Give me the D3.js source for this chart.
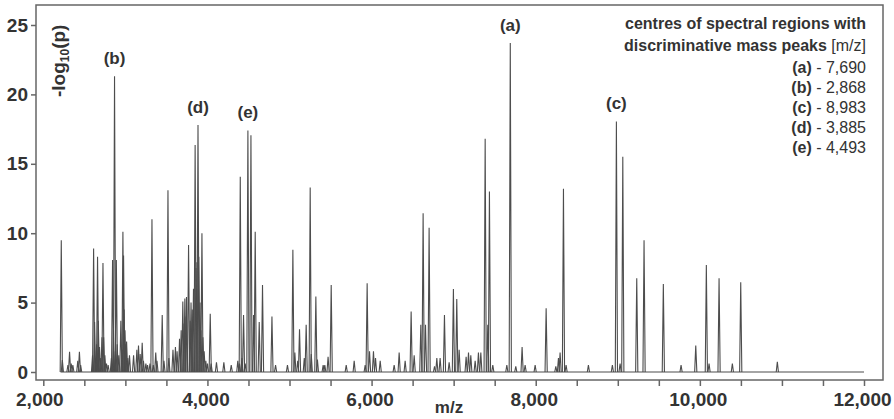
<!DOCTYPE html>
<html>
<head>
<meta charset="utf-8">
<script src="https://cdn.jsdelivr.net/npm/d3@7"></script>
<style>
  html, body { margin: 0; padding: 0; background: #fff; }
  svg { display: block; font-family: "Liberation Sans", Arial, sans-serif; }
</style>
</head>
<body>
<svg id="chart" width="894" height="419"></svg>
<script>
// ---- data ----
const peakMz = [
  2219, 2232, 2300, 2320, 2340, 2360, 2420, 2440, 2455,
  2600, 2613, 2625, 2640, 2650, 2661, 2670, 2685, 2700, 2715, 2727, 2735, 2750, 2770, 2790,
  2830, 2844, 2855, 2868, 2878, 2890, 2900, 2920, 2945, 2960, 2970, 2978, 2985, 2995, 3005, 3015, 3030, 3050,
  3100, 3140, 3160, 3180, 3205, 3220, 3250, 3270, 3300, 3324, 3340, 3370, 3385, 3449, 3470, 3519, 3530,
  3580, 3610, 3630, 3660, 3680, 3700, 3715, 3725, 3740, 3745, 3770, 3790, 3800, 3815, 3830, 3850, 3860,
  3872, 3885, 3895, 3910, 3920, 3933, 3945, 3960, 3980, 4000, 4034, 4045,
  4110, 4200, 4290, 4370, 4390, 4400, 4420, 4440, 4460, 4493, 4530, 4562, 4582, 4631, 4671, 4786, 4830,
  4975, 5041, 5065, 5100, 5122, 5180, 5203, 5252, 5265, 5321, 5340, 5410, 5430, 5470, 5508,
  5691, 5788, 5922, 5946, 5975, 6023, 6048, 6105, 6275, 6336, 6409, 6482, 6519, 6600, 6628, 6657, 6701,
  6767, 6795, 6835, 6888, 6945, 6997, 7038, 7067, 7152, 7181, 7209, 7262, 7302, 7331, 7384, 7416, 7436,
  7477, 7648, 7690, 7757, 7834, 7871, 7993, 8127, 8245, 8277, 8297, 8338, 8370, 8642, 8934, 8983, 9028,
  9061, 9231, 9320, 9555, 9771, 9950, 10079, 10112, 10234, 10396, 10498, 10944
];
const peakVal = [
  9.5, 0.86, 0.5, 1.46, 0.6, 0.5, 0.8, 1.46, 0.5,
  1.2, 8.9, 3.6, 1.0, 2.0, 8.3, 3.7, 1.8, 1.0, 2.5, 7.85, 2.5, 1.2, 0.6, 0.5,
  1.0, 8.06, 3.0, 21.3, 1.5, 8.06, 2.0, 1.2, 3.7, 1.6, 10.1, 8.4, 4.5, 3.0, 2.0, 2.2, 1.0, 1.2,
  1.2, 1.6, 1.9, 1.3, 2.1, 0.8, 0.6, 0.5, 0.6, 11.0, 0.5, 1.4, 0.8, 4.1, 0.8, 13.1, 1.0,
  1.6, 1.8, 1.5, 2.4, 3.0, 5.07, 3.5, 5.3, 4.0, 5.4, 9.15, 3.7, 5.0, 4.5, 6.0, 16.35, 7.5,
  7.9, 17.8, 8.3, 5.0, 3.0, 10.0, 2.5, 1.5, 0.8, 0.6, 4.2, 0.6,
  0.7, 0.7, 0.5, 0.8, 0.6, 14.07, 1.0, 4.1, 0.6, 17.4, 17.05, 4.1, 10.1, 3.6, 6.27, 4.0, 0.5,
  0.5, 8.8, 1.4, 0.8, 3.07, 1.0, 3.4, 13.3, 1.3, 5.43, 0.9, 0.5, 0.5, 1.1, 6.27,
  0.5, 0.8, 0.5, 6.4, 1.5, 1.5, 1.0, 0.8, 0.5, 1.4, 0.8, 4.35, 1.2, 3.4, 11.43, 3.4, 10.4,
  0.4, 1.0, 1.0, 4.1, 0.7, 5.98, 5.26, 1.6, 1.1, 1.4, 1.2, 0.8, 1.4, 1.4, 16.8, 3.4, 13.0,
  0.5, 0.5, 23.7, 0.4, 1.8, 0.5, 0.5, 4.6, 0.4, 1.0, 1.4, 13.2, 0.5, 0.5, 0.5, 18.05, 0.6,
  15.5, 6.75, 9.5, 6.34, 0.5, 1.9, 7.7, 0.6, 6.75, 0.6, 6.46, 0.74
];
const baselineRange = [2210, 12000];

const regionLabels = ["(a)", "(b)", "(c)", "(d)", "(e)"];
const regionMz = [7690, 2868, 8983, 3885, 4493];
const regionVal = [23.7, 21.3, 18.05, 17.8, 17.4];
const legendValues = ["7,690", "2,868", "8,983", "3,885", "4,493"];

const xTicks = [2000, 4000, 6000, 8000, 10000, 12000];
const xMinorTicks = d3.range(2000, 12001, 500);
const yTicks = [0, 5, 10, 15, 20, 25];

// ---- layout ----
const svg = d3.select("#chart");
const frame = { left: 36, top: 5, right: 883, bottom: 380 };
const x = d3.scaleLinear().domain([2000, 12000]).range([43.3, 864]);
const y = d3.scaleLinear().domain([0, 25]).range([372, 25]);
const ink = "#333";
const lineCol = "#4d4d4d";

// frame
svg.append("rect")
  .attr("x", frame.left).attr("y", frame.top)
  .attr("width", frame.right - frame.left).attr("height", frame.bottom - frame.top)
  .attr("fill", "none").attr("stroke", "#666").attr("stroke-width", 1.5);

// x axis
const xAxis = d3.axisBottom(x).tickValues(xTicks).tickSize(6).tickPadding(7)
  .tickFormat(d3.format(","));
const gx = svg.append("g").attr("transform", `translate(0,${frame.bottom})`).call(xAxis);
gx.select(".domain").remove();
gx.selectAll("line").attr("stroke", "#666").attr("stroke-width", 1.5);
gx.selectAll("text").attr("fill", ink).attr("font-size", 19).attr("font-weight", "bold")
  .attr("dx", d => d === 2000 ? -4 : -2);
const xMinor = d3.axisBottom(x).tickValues(xMinorTicks.filter(v => !xTicks.includes(v)))
  .tickSize(6).tickFormat("");
const gxm = svg.append("g").attr("transform", `translate(0,${frame.bottom})`).call(xMinor);
gxm.select(".domain").remove();
gxm.selectAll("line").attr("stroke", "#666").attr("stroke-width", 1.5);

// y axis
const yAxis = d3.axisLeft(y).tickValues(yTicks).tickSize(5).tickPadding(3);
const gy = svg.append("g").attr("transform", `translate(${frame.left},0)`).call(yAxis);
gy.select(".domain").remove();
gy.selectAll("line").attr("stroke", "#666").attr("stroke-width", 1.5);
gy.selectAll("text").attr("fill", ink).attr("font-size", 19).attr("font-weight", "bold");

// axis titles
svg.append("text").attr("x", 449).attr("y", 413).attr("text-anchor", "middle")
  .attr("fill", ink).attr("font-size", 17).attr("font-weight", "bold").text("m/z");

const yt = svg.append("text")
  .attr("transform", "translate(65,97) rotate(-90)")
  .attr("fill", ink).attr("font-size", 19).attr("font-weight", "bold");
yt.append("tspan").text("-log");
yt.append("tspan").attr("font-size", 12).attr("dy", 4).text("10");
yt.append("tspan").attr("dy", -4).text("(p)");

// baseline
svg.append("line")
  .attr("x1", x(baselineRange[0])).attr("x2", x(baselineRange[1]))
  .attr("y1", y(0)).attr("y2", y(0))
  .attr("stroke", lineCol).attr("stroke-width", 1.2);

// peaks
const peaks = peakMz.map((m, i) => ({ m, v: peakVal[i] }));
const hw = 1.1;
svg.append("g").selectAll("path").data(peaks).join("path")
  .attr("d", d => `M${x(d.m) - hw},${y(0)}L${x(d.m)},${y(d.v)}L${x(d.m) + hw},${y(0)}`)
  .attr("fill", "none").attr("stroke", lineCol).attr("stroke-width", 1.1)
  .attr("stroke-linejoin", "miter");

// region labels above peaks
svg.append("g").selectAll("text").data(regionLabels).join("text")
  .attr("x", (d, i) => x(regionMz[i]))
  .attr("y", (d, i) => y(regionVal[i]) - 12)
  .attr("text-anchor", "middle").attr("fill", ink)
  .attr("font-size", 17).attr("font-weight", "bold").text(d => d);

// legend
const lx = 866;
const leg = svg.append("g").attr("fill", ink).attr("font-size", 16).attr("text-anchor", "end");
leg.append("text").attr("x", lx).attr("y", 29).attr("font-weight", "bold")
  .text("centres of spectral regions with");
const l2 = leg.append("text").attr("x", lx).attr("y", 51);
l2.append("tspan").attr("font-weight", "bold").text("discriminative mass peaks ");
l2.append("tspan").text("[m/z]");
regionLabels.forEach((lab, i) => {
  const t = leg.append("text").attr("x", lx).attr("y", 73 + i * 20);
  t.append("tspan").attr("font-weight", "bold").text(lab);
  t.append("tspan").text(" - " + legendValues[i]);
});
</script>
</body>
</html>
